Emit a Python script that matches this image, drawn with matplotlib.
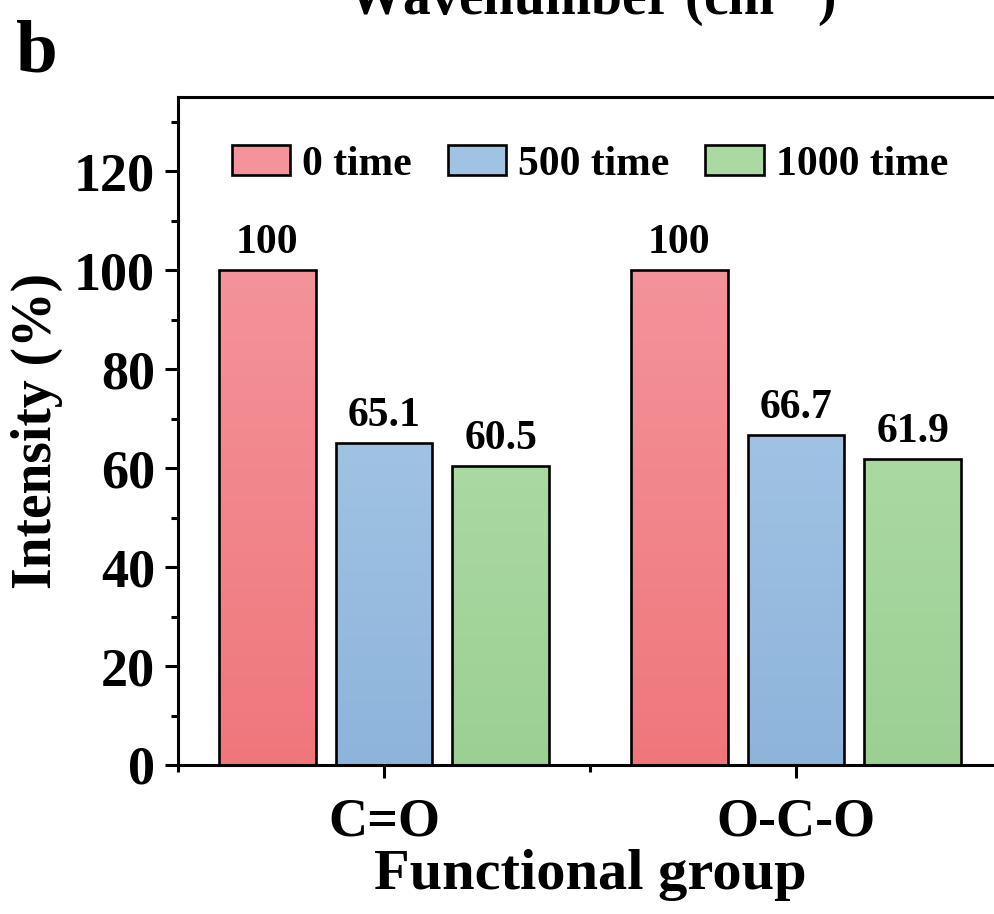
import numpy as np
import matplotlib
matplotlib.use("Agg")
import matplotlib.pyplot as plt
from matplotlib.colors import LinearSegmentedColormap
from matplotlib.patches import Patch
from matplotlib.ticker import MultipleLocator, FixedLocator

plt.rcParams["font.family"] = ["Liberation Serif", "DejaVu Serif"]
plt.rcParams["font.weight"] = "bold"
plt.rcParams["mathtext.fontset"] = "custom"
plt.rcParams["mathtext.rm"] = "Liberation Serif:bold"
plt.rcParams["mathtext.bf"] = "Liberation Serif:bold"
plt.rcParams["mathtext.default"] = "bf"

# data
groups = ["C=O", "O-C-O"]
series = ["0 time", "500 time", "1000 time"]
values_0 = [100, 100]
values_500 = [65.1, 66.7]
values_1000 = [60.5, 61.9]
value_labels_0 = ["100", "100"]
value_labels_500 = ["65.1", "66.7"]
value_labels_1000 = ["60.5", "61.9"]

# (top colour, bottom colour) for each series
shades = [("#F4939A", "#EF777C"), ("#A0C3E3", "#8DB4DB"), ("#AAD9A2", "#9CD093")]

W, H, DPI = 995, 914, 100
fig = plt.figure(figsize=(W / DPI, H / DPI), dpi=DPI)
ax = fig.add_axes([178 / W, 1 - 765 / H, 824 / W, 668 / H])

x = np.arange(1, len(groups) + 1)
bar_w = 0.2354
offset = 0.283
all_vals = [values_0, values_500, values_1000]
all_labels = [value_labels_0, value_labels_500, value_labels_1000]

for k, (vals, labs) in enumerate(zip(all_vals, all_labels)):
    pos = x + (k - 1) * offset
    cmap = LinearSegmentedColormap.from_list(f"g{k}", [shades[k][1], shades[k][0]])
    bars = ax.bar(pos, vals, width=bar_w, facecolor="none", edgecolor="black",
                  linewidth=1.9, zorder=3)
    for rect, lab in zip(bars, labs):
        x0, w, h = rect.get_x(), rect.get_width(), rect.get_height()
        grad = np.linspace(0, 1, 256).reshape(-1, 1)
        im = ax.imshow(grad, cmap=cmap, aspect="auto", origin="lower",
                       extent=[x0, x0 + w, 0, h], zorder=2)
        im.set_clip_path(rect)
        ax.text(x0 + w / 2, h + 1.6, lab, ha="center", va="bottom",
                fontsize=30, fontweight="bold", zorder=4)

ax.set_xlim(0.5, 2.5)
ax.set_ylim(0, 135)

# axes styling
for side in ["left", "bottom", "top"]:
    ax.spines[side].set_linewidth(2.2)
ax.spines["right"].set_visible(False)

ax.yaxis.set_major_locator(MultipleLocator(20))
ax.yaxis.set_minor_locator(MultipleLocator(10))
ax.xaxis.set_major_locator(FixedLocator(x))
ax.xaxis.set_minor_locator(FixedLocator([0.5, 1.5, 2.5]))
ax.set_xticklabels(groups)
ax.tick_params(axis="both", which="major", direction="out", length=9.5, width=2.2,
               labelsize=39, pad=6)
ax.tick_params(axis="both", which="minor", direction="out", length=5, width=2.2)
ax.tick_params(axis="x", which="major", pad=14)
ax.tick_params(axis="y", which="major", pad=7)
for t in ax.get_xticklabels() + ax.get_yticklabels():
    t.set_fontweight("bold")

ax.set_ylabel("Intensity (%)", fontsize=40, fontweight="bold", labelpad=8)
ax.set_xlabel("Functional group", fontsize=42, fontweight="bold", labelpad=1)

handles = [Patch(facecolor=shades[k][0], edgecolor="black", linewidth=1.9, label=series[k])
           for k in range(3)]
leg = ax.legend(handles=handles, loc="upper center", bbox_to_anchor=(0.5, 1.0),
                ncol=3, frameon=False, fontsize=30, handlelength=1.4, handleheight=0.75,
                handletextpad=0.3, columnspacing=0.85, borderaxespad=0.75)
for t in leg.get_texts():
    t.set_fontweight("bold")

# panel letter and heading of the panel above
fig.text(16 / W, 1 - 72 / H, "b", fontsize=54, fontweight="bold", ha="left", va="baseline")
fig.text(591 / W, 1 - 15 / H, "Wavenumber (cm$^{-1}$)", fontsize=40, fontweight="bold",
         ha="center", va="baseline")

fig.savefig("out.png", dpi=DPI)
